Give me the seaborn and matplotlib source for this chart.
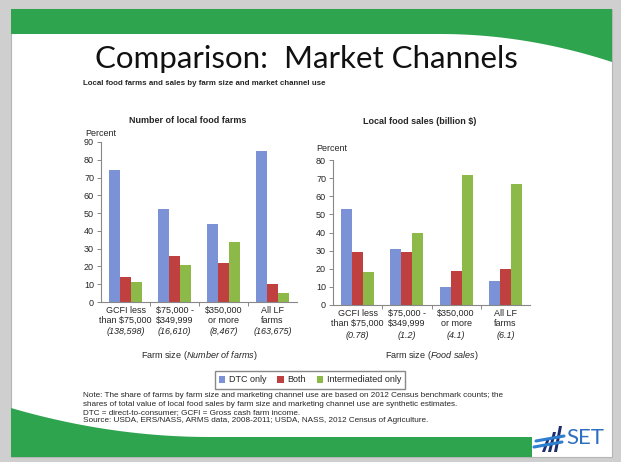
import numpy as np
import pandas as pd
import matplotlib
matplotlib.use("Agg")
import matplotlib.pyplot as plt
import seaborn as sns
from matplotlib.patches import Polygon, Rectangle, Patch

# ---- data ----
channels = ["DTC only", "Both", "Intermediated only"]
size_keys = ["lt75", "75to350", "350plus", "all"]
size_names = ["GCFI less\nthan $75,000", "$75,000 -\n$349,999", "$350,000\nor more", "All LF\nfarms"]
farm_counts = ["138,598", "16,610", "8,467", "163,675"]
sales_totals = ["0.78", "1.2", "4.1", "6.1"]

farms_dtc = [74, 52.5, 44, 85]
farms_both = [14, 26, 22, 10]
farms_inter = [11.5, 21, 34, 5]

sales_dtc = [53, 31, 10, 13]
sales_both = [29.5, 29, 19, 20]
sales_inter = [18, 40, 71.5, 67]

colors = ["#7b93d6", "#c0403f", "#8db948"]
green = "#2ea44f"

sns.set_style("white")
plt.rcParams["font.family"] = ["Liberation Sans", "DejaVu Sans"]
plt.rcParams["mathtext.fontset"] = "custom"
plt.rcParams["mathtext.rm"] = "Liberation Sans"
plt.rcParams["mathtext.it"] = "Liberation Sans:italic"


def make_df(dtc, both, inter):
    return pd.DataFrame({
        "size": size_keys * 3,
        "channel": np.repeat(channels, len(size_keys)),
        "value": list(dtc) + list(both) + list(inter),
    })


fig = plt.figure(figsize=(6.21, 4.62), dpi=100)
fig.patch.set_facecolor("#cfcfcf")

# slide background, drawn in pixel coords
bg = fig.add_axes([0, 0, 1, 1], zorder=-5)
bg.set_xlim(0, 621)
bg.set_ylim(462, 0)
bg.axis("off")
bg.add_patch(Rectangle((11, 9), 601, 448, facecolor="white", edgecolor="#b5b5b5", lw=0.8))
# top band with curve at right
xs = np.linspace(440, 612, 40)
curve = 34 + 28 * ((xs - 440) / 172) ** 2
top = [(11, 9), (612, 9), (612, 62)] + list(zip(xs[::-1], curve[::-1])) + [(11, 34)]
bg.add_patch(Polygon(top, closed=True, facecolor=green, edgecolor="none"))
# bottom band with curve at left
xb = np.linspace(11, 210, 40)
cb = 437 - 29 * (1 - (xb - 11) / 199) ** 2
bottom = list(zip(xb, cb)) + [(532, 437), (532, 457), (11, 457)]
bg.add_patch(Polygon(bottom, closed=True, facecolor=green, edgecolor="none"))
# SET logo (rough)
for x0, h in [(542, 14), (548, 20), (554, 26)]:
    bg.add_patch(Polygon([(x0, 452), (x0 + 3, 452), (x0 + 8, 452 - h), (x0 + 5, 452 - h)],
                         closed=True, facecolor="#1d2d6b", edgecolor="none"))
bg.plot([536, 564], [441, 436], color="#2f7fd0", lw=2.2)
bg.plot([534, 562], [447, 442], color="#2f7fd0", lw=2.2)
bg.text(566, 438, "SET", fontsize=16, color="#2f6fc0", family="Lato", va="center", ha="left")

fig.text(0.493, 0.872, "Comparison:  Market Channels", fontsize=22.5, family="Lato",
         ha="center", va="center", color="#111111")
fig.text(0.134, 0.820, "Local food farms and sales by farm size and market channel use",
         fontsize=5.7, fontweight="bold", ha="left", va="center")

panels = [
    ([101 / 621, 1 - 302 / 462, 196 / 621, 160 / 462], make_df(farms_dtc, farms_both, farms_inter),
     90, farm_counts, "Number of local food farms", (0.302, 0.740), (0.137, 0.711),
     "Farm size (", "Number of farms", 30, 53),
    ([333 / 621, 1 - 305 / 462, 197 / 621, 145 / 462], make_df(sales_dtc, sales_both, sales_inter),
     80, sales_totals, "Local food sales (billion $)", (0.676, 0.738), (0.509, 0.679),
     "Farm size (", "Food sales", 31, 51),
]

for rect, df, ymax, extra, title, tpos, ppos, xl1, xl2, off3, offx in panels:
    ax = fig.add_axes(rect)
    sns.barplot(data=df, x="size", y="value", hue="channel", order=size_keys, hue_order=channels,
                palette=colors, width=0.67, saturation=1, linewidth=0, legend=False, ax=ax)
    ax.set_xlim(-0.5, 3.5)
    ax.set_ylim(0, ymax)
    ax.set_yticks(np.arange(0, ymax + 1, 10))
    ax.set_xticks(range(4))
    ax.set_xticklabels(size_names, fontsize=6.5, linespacing=1.15)
    ax.set_xticks([0.5, 1.5, 2.5], minor=True)
    ax.tick_params(axis="x", which="major", length=0, pad=3)
    ax.tick_params(axis="x", which="minor", length=3, color="#888888", width=0.7, direction="out", bottom=True)
    ax.tick_params(axis="y", length=3, color="#888888", width=0.7, direction="out", left=True, labelsize=6.5, pad=2)
    for s in ["top", "right"]:
        ax.spines[s].set_visible(False)
    for s in ["left", "bottom"]:
        ax.spines[s].set_color("#888888")
        ax.spines[s].set_linewidth(0.8)
    ax.set_xlabel("")
    ax.set_ylabel("")
    # third label line: italic figure in parentheses
    for i, e in enumerate(extra):
        ax.annotate(f"({e})", xy=(i, 0), xycoords=("data", "axes fraction"), xytext=(0, -off3 * 0.72),
                    textcoords="offset points", ha="center", va="center", fontsize=6.5, style="italic")
    ax.annotate(f"{xl1}$\\mathit{{{xl2.replace(' ', '\\ ')}}}$)", xy=(0.5, 0), xycoords="axes fraction",
                xytext=(0, -offx * 0.72), textcoords="offset points", ha="center", va="center", fontsize=6.5)
    fig.text(tpos[0], tpos[1], title, fontsize=6.5, fontweight="bold", ha="center", va="center")
    fig.text(ppos[0], ppos[1], "Percent", fontsize=6.5, ha="left", va="center")

handles = [Patch(facecolor=c, edgecolor="none") for c in colors]
fig.legend(handles, channels, loc="center", bbox_to_anchor=(310 / 621, 1 - 380 / 462), ncol=3,
           fontsize=6.5, frameon=True, fancybox=False, edgecolor="#888888", framealpha=1,
           handlelength=0.7, handleheight=0.7, handletextpad=0.4, columnspacing=1.2,
           borderpad=0.5, borderaxespad=0)

notes = ("Note: The share of farms by farm size and marketing channel use are based on 2012 Census benchmark counts; the\n"
         "shares of total value of local food sales by farm size and marketing channel use are synthetic estimates.\n"
         "DTC = direct-to-consumer; GCFI = Gross cash farm income.\n"
         "Source: USDA, ERS/NASS, ARMS data, 2008-2011; USDA, NASS, 2012 Census of Agriculture.")
fig.text(83 / 621, 1 - 392 / 462, notes, fontsize=5.9, ha="left", va="top", linespacing=1.3)

fig.savefig("out.png", dpi=100, facecolor=fig.get_facecolor())
